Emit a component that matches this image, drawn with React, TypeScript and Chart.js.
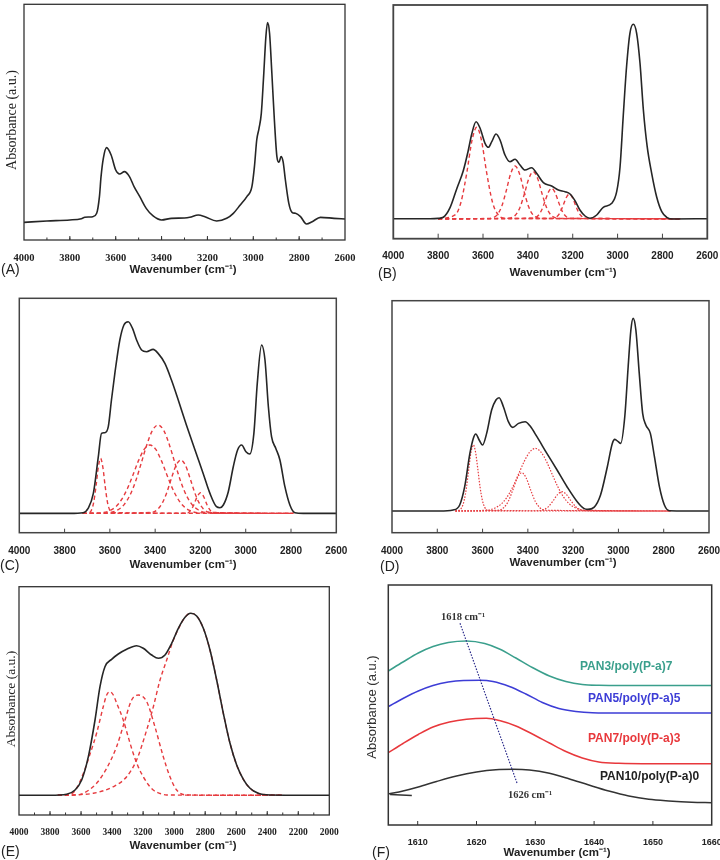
import React, { useEffect, useRef } from "react";
import { Chart, registerables } from "chart.js";

Chart.register(...registerables);

type Pt = [number, number];

// ---------- (A) ATR-FTIR spectrum, 4000–2600 cm-1 ----------
const A_SPECTRUM: Pt[] = [
  [4000, 5.3], [3900, 5.7], [3800, 6.0], [3750, 6.4], [3735, 6.8], [3715, 6.9], [3700, 7.0],
  [3683, 8.0], [3671, 13], [3664, 19], [3654, 24.5], [3640, 27.7], [3620, 25.5], [3600, 21],
  [3583, 19.8], [3562, 20.5], [3540, 19], [3520, 16], [3495, 13], [3467, 9.5], [3437, 7.2],
  [3400, 6.0], [3357, 6.5], [3300, 6.6], [3277, 6.8], [3240, 7.5], [3211, 7.0], [3160, 5.7],
  [3116, 6.5], [3087, 8.0], [3057, 10.5], [3028, 13], [3006, 16], [2995, 22], [2985, 30],
  [2975, 33.5], [2965, 38], [2955, 49], [2945, 61], [2938, 65.2], [2929, 62], [2919, 50],
  [2908, 36], [2897, 25], [2888, 23.3], [2879, 25], [2870, 23.5], [2860, 18], [2845, 11],
  [2831, 8.3], [2816, 8.0], [2794, 7.0], [2768, 4.8], [2743, 5.5], [2707, 6.8], [2648, 6.5],
  [2600, 6.3],
];

// ---------- (B) spectrum and fitted OH bands ----------
const B_SPECTRUM: Pt[] = [
  [4000, 20], [3836, 20], [3800, 20.3], [3777, 21.4], [3747, 31], [3717, 50], [3688, 68],
  [3666, 88], [3651, 104], [3631, 117], [3613, 110.4], [3591, 95.4], [3576, 91.4], [3561, 97],
  [3542, 104.7], [3524, 98.7], [3502, 83.7], [3480, 77], [3457, 79.4], [3435, 73.7],
  [3413, 68.7], [3383, 71], [3361, 65.4], [3331, 56], [3294, 52.7], [3264, 48.7], [3234, 47],
  [3212, 44.7], [3190, 38], [3168, 28.7], [3145, 22.7], [3123, 20.4], [3093, 23.7],
  [3064, 31.4], [3026, 35.4], [3004, 47], [2989, 72], [2975, 122], [2960, 172], [2945, 205.4],
  [2930, 214.4], [2915, 205.4], [2900, 175.4], [2885, 128.7], [2868, 92], [2848, 65.4],
  [2826, 42], [2803, 27], [2781, 21.4], [2752, 19.7], [2600, 20],
];
const B_FIT_1: Pt[] = [
  [3800, 20], [3723, 24], [3698, 36.7], [3673, 65], [3648, 99.5], [3628, 111.4], [3608, 99.5],
  [3583, 65], [3558, 36.7], [3533, 24], [3500, 20.3], [2720, 20],
];
const B_FIT_2: Pt[] = [
  [3800, 20], [3580, 20.2], [3557, 20.9], [3537, 23.8], [3517, 32.1], [3497, 47.4], [3477, 64.8],
  [3457, 72.7], [3437, 64.8], [3417, 47.4], [3397, 32.1], [3377, 23.8], [3357, 20.9],
  [3330, 20.2], [2720, 20],
];
const B_FIT_3: Pt[] = [
  [3800, 20], [3500, 20.2], [3476, 20.8], [3456, 23.4], [3436, 30.8], [3416, 44.4], [3396, 60],
  [3376, 67], [3356, 60], [3336, 44.4], [3316, 30.8], [3296, 23.4], [3276, 20.8], [3250, 20.2],
  [2720, 20],
];
const B_FIT_4: Pt[] = [
  [3800, 20], [3374, 20.5], [3354, 23.1], [3339, 28.4], [3324, 37.1], [3309, 46.3], [3294, 50.4],
  [3279, 46.3], [3264, 37.1], [3249, 28.4], [3234, 23.1], [3214, 20.5], [2720, 20],
];
const B_FIT_5: Pt[] = [
  [3800, 20], [3290, 20.3], [3275, 21.4], [3260, 24.9], [3245, 32], [3230, 40.6], [3215, 44.7],
  [3200, 40.6], [3185, 32], [3170, 24.9], [3155, 21.4], [3140, 20.3], [2720, 20],
];

// ---------- (C) spectrum and fitted OH bands ----------
const C_SPECTRUM: Pt[] = [
  [4000, 19.3], [3776, 19.3], [3718, 20], [3696, 24.3], [3673, 39.3], [3651, 76], [3637, 99.3],
  [3622, 100], [3607, 106], [3593, 132.7], [3578, 159.3], [3556, 192.7], [3538, 207.7],
  [3519, 211], [3500, 204.3], [3482, 192.7], [3460, 182.7], [3438, 181], [3409, 183.3],
  [3387, 179.3], [3357, 169.3], [3328, 152.7], [3298, 132.7], [3262, 107.7], [3224, 82.7],
  [3188, 59.3], [3158, 39.3], [3129, 26], [3114, 25], [3099, 27.7], [3077, 41], [3055, 66],
  [3036, 82.7], [3018, 87.7], [2999, 81], [2982, 78.7], [2964, 99.3], [2949, 149.3],
  [2930, 187.7], [2915, 172.7], [2900, 126], [2886, 96], [2867, 84.3], [2849, 72.7],
  [2827, 46], [2805, 27.7], [2783, 20], [2746, 19.3], [2600, 19.3],
];
const C_FIT_1: Pt[] = [
  [3720, 19.3], [3691, 20], [3681, 22.8], [3671, 30.9], [3661, 46.8], [3651, 65.5], [3641, 74.3],
  [3631, 65.5], [3621, 46.8], [3611, 30.9], [3601, 22.8], [3591, 20], [2790, 19.3],
];
const C_FIT_2: Pt[] = [
  [3720, 19.3], [3633, 20], [3598, 22.3], [3573, 26.1], [3548, 33.2], [3523, 43.9], [3498, 57.8],
  [3473, 72.3], [3448, 83.5], [3423, 87.7], [3398, 83.5], [3373, 72.3], [3348, 57.8],
  [3323, 43.9], [3298, 33.2], [3273, 26.1], [3248, 22.3], [3213, 20], [2790, 19.3],
];
const C_FIT_3: Pt[] = [
  [3720, 19.3], [3597, 20.3], [3562, 23.2], [3537, 28.1], [3512, 37.2], [3487, 51.1],
  [3462, 69.1], [3437, 87.8], [3412, 102.2], [3387, 107.7], [3362, 102.2], [3337, 87.8],
  [3312, 69.1], [3287, 51.1], [3262, 37.2], [3237, 28.1], [3212, 23.2], [3177, 20.3],
  [2790, 19.3],
];
const C_FIT_4: Pt[] = [
  [3720, 19.3], [3412, 20.4], [3387, 23.8], [3367, 30.3], [3347, 41.2], [3327, 55.3],
  [3307, 67.7], [3287, 72.7], [3267, 67.7], [3247, 55.3], [3227, 41.2], [3207, 30.3],
  [3187, 23.8], [3162, 20.4], [2790, 19.3],
];
const C_FIT_5: Pt[] = [
  [3720, 19.3], [3260, 19.5], [3245, 21.8], [3230, 27.5], [3215, 35.7], [3200, 40], [3185, 35.7],
  [3170, 27.5], [3155, 21.8], [3140, 19.5], [2790, 19.3],
];

// ---------- (D) spectrum and fitted OH bands ----------
const D_SPECTRUM: Pt[] = [
  [4000, 21.7], [3790, 21.7], [3730, 22.7], [3701, 27.7], [3679, 46], [3656, 79.3], [3641, 94.3],
  [3630, 98.7], [3615, 92.7], [3600, 87.7], [3582, 99.3], [3560, 122.7], [3541, 132.7],
  [3527, 135], [3508, 126], [3486, 111], [3467, 105.3], [3441, 109.3], [3412, 111],
  [3390, 106.7], [3360, 96], [3316, 79.3], [3271, 62.7], [3227, 46], [3182, 31], [3153, 24.3],
  [3135, 23.3], [3108, 25.3], [3079, 37.7], [3049, 66], [3027, 89.3], [3016, 93.3], [3001, 91],
  [2990, 89.3], [2972, 116], [2957, 166], [2945, 202.7], [2935, 214.3], [2923, 202.7],
  [2908, 159.3], [2893, 119.3], [2879, 107.7], [2859, 99.3], [2841, 76], [2819, 46],
  [2797, 27.7], [2775, 22], [2600, 21.7],
];
const D_FIT_1: Pt[] = [
  [3720, 21.7], [3706, 22.2], [3691, 25.6], [3681, 32.5], [3671, 45.5], [3661, 63.6],
  [3651, 80.6], [3641, 87.7], [3631, 80.6], [3621, 63.6], [3611, 45.5], [3601, 32.5],
  [3591, 25.6], [3576, 22.2], [2770, 21.7],
];
const D_FIT_2: Pt[] = [
  [3720, 21.7], [3527, 22.5], [3507, 25], [3487, 31.2], [3467, 42.3], [3447, 54.5], [3427, 60],
  [3407, 54.5], [3387, 42.3], [3367, 31.2], [3347, 25], [3327, 22.5], [2770, 21.7],
];
const D_FIT_3: Pt[] = [
  [3720, 21.7], [3577, 22.6], [3547, 24.5], [3517, 28.8], [3492, 35.6], [3467, 45.6],
  [3442, 58.1], [3417, 70.9], [3392, 80.6], [3367, 84.3], [3342, 80.6], [3317, 70.9],
  [3292, 58.1], [3267, 45.6], [3242, 35.6], [3217, 28.8], [3187, 24.5], [3157, 22.6],
  [2770, 21.7],
];
const D_FIT_4: Pt[] = [
  [3720, 21.7], [3349, 22], [3329, 23.1], [3309, 26.1], [3289, 31.7], [3269, 38.1], [3249, 41],
  [3229, 38.1], [3209, 31.7], [3189, 26.1], [3169, 23.1], [3149, 22], [2770, 21.7],
];

// ---------- (E) spectrum, 4000–2000 cm-1, and three fitted bands ----------
const E_SPECTRUM: Pt[] = [
  [4000, 19.7], [3800, 19.7], [3693, 20.7], [3639, 25], [3596, 35], [3553, 58.3], [3510, 95],
  [3478, 128.3], [3446, 148.3], [3403, 155.7], [3360, 161], [3306, 165.7], [3242, 169.3],
  [3199, 166.7], [3145, 160], [3102, 156.7], [3059, 160], [3016, 171.7], [2973, 186.7],
  [2930, 197.7], [2894, 201.7], [2855, 199], [2812, 186.7], [2769, 165], [2726, 135],
  [2683, 101.7], [2640, 71.7], [2597, 50], [2554, 35.7], [2511, 26.7], [2458, 21.7],
  [2383, 20], [2000, 19.7],
];
const E_FIT_1: Pt[] = [
  [3750, 19.7], [3693, 20], [3640, 24], [3585, 41.7], [3540, 62], [3500, 81.7], [3457, 108.3],
  [3435, 120], [3414, 123.3], [3392, 120], [3371, 112], [3328, 95], [3296, 78], [3264, 61.7],
  [3231, 48], [3199, 38.3], [3167, 30.5], [3135, 25], [3090, 21.5], [3049, 20], [2300, 19.7],
];
const E_FIT_2: Pt[] = [
  [3750, 19.7], [3620, 20], [3585, 21.7], [3500, 31.7], [3435, 46.7], [3371, 68.3],
  [3323, 91.7], [3274, 115], [3231, 120], [3177, 113.3], [3124, 88.3], [3070, 58.3],
  [3027, 38.3], [2984, 25], [2920, 20], [2300, 19.7],
];
const E_FIT_3: Pt[] = [
  [3750, 19.7], [3600, 20.5], [3521, 21.7], [3392, 28.3], [3306, 38.3], [3242, 55],
  [3177, 85], [3134, 108.3], [3091, 135], [3048, 155], [3005, 175], [2960, 190], [2930, 197.7],
  [2894, 201.7], [2855, 199], [2812, 186.7], [2769, 165], [2726, 135], [2683, 101.7],
  [2640, 71.7], [2597, 50], [2554, 35.7], [2511, 26.7], [2458, 21.7], [2383, 20], [2300, 19.7],
];

// ---------- (F) C=N / N-H region of the blends, 1605–1660 cm-1 ----------
const F_PAN3: Pt[] = [
  [1605, 154], [1607.5, 163], [1610.1, 172], [1612.6, 178.5], [1615.2, 182.5], [1618.3, 184],
  [1621.4, 181.5], [1623.9, 176], [1626.7, 167], [1629.5, 157.5], [1632.4, 149], [1635.2, 143.5],
  [1638, 140.5], [1640.8, 139.7], [1645, 139.5], [1660, 139.5],
];
const F_PAN5: Pt[] = [
  [1605, 118.3], [1607.5, 126.5], [1610.1, 134], [1612.6, 139.5], [1615.2, 143], [1617.8, 144.5],
  [1620.6, 144.7], [1622.8, 143.5], [1625.6, 138.5], [1628.4, 131], [1631.2, 122.5], [1634, 116.5],
  [1636.9, 113.5], [1639.7, 112.3], [1645, 112], [1660, 112],
];
const F_PAN7: Pt[] = [
  [1605, 72.3], [1607.5, 81.5], [1610.1, 90.5], [1612.6, 98], [1615.4, 103], [1618.3, 105.8],
  [1621.7, 106.7], [1623.9, 104.5], [1626.7, 99], [1629.5, 91], [1632.4, 82], [1635.2, 73.5],
  [1638, 67], [1640.8, 63], [1644.2, 61.7], [1650, 61.3], [1660, 61.3],
];
const F_PAN10: Pt[] = [
  [1605, 31], [1607.5, 34], [1610.1, 38], [1613.2, 43.5], [1616.6, 49], [1620, 53], [1623.3, 55.3],
  [1626.3, 55.7], [1629, 55], [1632.4, 51.7], [1635.7, 46.3], [1639.1, 40], [1642.5, 34],
  [1645.9, 29], [1649.3, 25.7], [1652.7, 24], [1656.6, 22.7], [1660, 22.3],
];
const F_PAN10_STUB: Pt[] = [[1605.3, 30.6], [1609, 29.5]];
const F_SHIFT_GUIDE: Pt[] = [[1617.2, 201.7], [1626.9, 41.7]];

// ---------- styling ----------
const INK = "#262626";
const FIT_RED = "#e63b3f";
const TEAL = "#3a9f8c";
const BLUE = "#3d3dd6";
const RED = "#e8383c";
const GUIDE = "#2d2d8c";
const SANS = '"Liberation Sans", Arial, sans-serif';
const SERIF = '"Liberation Serif", "Times New Roman", serif';
const X_TITLE = "Wavenumber (cm\u207B\u00B9)";
const Y_TITLE = "Absorbance (a.u.)";

const line = (pts: Pt[], color: string, width: number, dash: number[] = []) => ({
  data: pts.map(([x, y]) => ({ x, y })),
  borderColor: color,
  borderWidth: width,
  borderDash: dash,
  pointRadius: 0,
  fill: false,
  cubicInterpolationMode: "monotone" as const,
});
const spectrum = (pts: Pt[]) => line(pts, INK, 1.6);
const fit = (pts: Pt[]) => line(pts, FIT_RED, 1.4, [4, 3]);
const dottedFit = (pts: Pt[]) => line(pts, FIT_RED, 1.2, [1.5, 1.5]);

type Note = {
  text: string;
  x: number;
  y: number;
  font: string;
  color?: string;
  align?: CanvasTextAlign;
  rotate?: boolean;
};

type PanelSpec = {
  canvas: { left: number; top: number; width: number; height: number };
  box: { left: number; top: number; right: number; bottom: number };
  xMin: number;
  xMax: number;
  reverse: boolean;
  step: number;
  yMax: number;
  tickFont: { family: string; size: number; weight: string };
  tickPad: number;
  majorLen: number;
  minorStep?: number;
  minorLen?: number;
  frameColor: string;
  frameWidth: number;
  datasets: any[];
  notes: Note[];
};

const panelLetter = (text: string, x: number, y: number): Note => ({
  text, x, y, font: `14px ${SANS}`, align: "left",
});
const xTitle = (x: number, y: number): Note => ({
  text: X_TITLE, x, y, font: `bold 11.5px ${SANS}`,
});

const PANELS: PanelSpec[] = [
  {
    canvas: { left: 0, top: 0, width: 360, height: 285 },
    box: { left: 24, top: 4.3, right: 345, bottom: 240 },
    xMin: 2600, xMax: 4000, reverse: true, step: 200, yMax: 70.7,
    tickFont: { family: SERIF, size: 10.5, weight: "bold" }, tickPad: 3.7,
    majorLen: 4, minorStep: 100, minorLen: 2.5,
    frameColor: "#333", frameWidth: 1.3,
    datasets: [spectrum(A_SPECTRUM)],
    notes: [
      panelLetter("(A)", 1, 270),
      xTitle(183, 270),
      { text: Y_TITLE, x: 12, y: 120, font: `14px ${SERIF}`, rotate: true },
    ],
  },
  {
    canvas: { left: 360, top: 0, width: 360, height: 285 },
    box: { left: 393.3, top: 5, right: 707.3, bottom: 238.7 },
    xMin: 2600, xMax: 4000, reverse: true, step: 200, yMax: 233.7,
    tickFont: { family: SANS, size: 10, weight: "bold" }, tickPad: 3.6,
    majorLen: 5,
    frameColor: "#444", frameWidth: 1.8,
    datasets: [
      spectrum(B_SPECTRUM),
      fit(B_FIT_1), fit(B_FIT_2), fit(B_FIT_3), fit(B_FIT_4), fit(B_FIT_5),
    ],
    notes: [panelLetter("(B)", 378, 274), xTitle(563, 273)],
  },
  {
    canvas: { left: 0, top: 285, width: 360, height: 290 },
    box: { left: 19.3, top: 298.3, right: 336.3, bottom: 532.7 },
    xMin: 2600, xMax: 4000, reverse: true, step: 200, yMax: 234.4,
    tickFont: { family: SANS, size: 10, weight: "bold" }, tickPad: 4.6,
    majorLen: 4,
    frameColor: "#444", frameWidth: 1.5,
    datasets: [
      spectrum(C_SPECTRUM),
      fit(C_FIT_1), fit(C_FIT_2), fit(C_FIT_3), fit(C_FIT_4), fit(C_FIT_5),
    ],
    notes: [panelLetter("(C)", 0, 566), xTitle(183, 565)],
  },
  {
    canvas: { left: 360, top: 285, width: 360, height: 290 },
    box: { left: 392, top: 300.7, right: 709, bottom: 532.7 },
    xMin: 2600, xMax: 4000, reverse: true, step: 200, yMax: 232,
    tickFont: { family: SANS, size: 10, weight: "bold" }, tickPad: 4.6,
    majorLen: 4,
    frameColor: "#444", frameWidth: 1.5,
    datasets: [
      spectrum(D_SPECTRUM),
      dottedFit(D_FIT_1), dottedFit(D_FIT_2), dottedFit(D_FIT_3), dottedFit(D_FIT_4),
    ],
    notes: [panelLetter("(D)", 380, 567), xTitle(563, 563)],
  },
  {
    canvas: { left: 0, top: 575, width: 360, height: 285 },
    box: { left: 19, top: 586.7, right: 329.3, bottom: 815 },
    xMin: 2000, xMax: 4000, reverse: true, step: 200, yMax: 228.3,
    tickFont: { family: SERIF, size: 9.5, weight: "bold" }, tickPad: 4.3,
    majorLen: 4, minorStep: 100, minorLen: 2.5,
    frameColor: "#333", frameWidth: 1.3,
    datasets: [spectrum(E_SPECTRUM), fit(E_FIT_1), fit(E_FIT_2), fit(E_FIT_3)],
    notes: [
      panelLetter("(E)", 1, 852),
      xTitle(183, 846),
      { text: Y_TITLE, x: 11, y: 699, font: `13.5px ${SERIF}`, rotate: true },
    ],
  },
  {
    canvas: { left: 360, top: 575, width: 360, height: 285 },
    box: { left: 388.3, top: 585, right: 711.7, bottom: 825 },
    xMin: 1605, xMax: 1660, reverse: false, step: 10, yMax: 240,
    tickFont: { family: SANS, size: 9, weight: "bold" }, tickPad: 4.6,
    majorLen: 4,
    frameColor: "#333", frameWidth: 1.5,
    datasets: [
      line(F_SHIFT_GUIDE, GUIDE, 1.2, [1.5, 1.5]),
      line(F_PAN3, TEAL, 1.5),
      line(F_PAN5, BLUE, 1.5),
      line(F_PAN7, RED, 1.5),
      line(F_PAN10, "#333", 1.5),
      line(F_PAN10_STUB, "#333", 1.5),
    ],
    notes: [
      panelLetter("(F)", 372, 853),
      xTitle(557, 853),
      { text: Y_TITLE, x: 372, y: 707, font: `13px ${SANS}`, color: "#333", rotate: true },
      { text: "1618 cm\u207B\u00B9", x: 463, y: 617, font: `bold 10.5px ${SERIF}`, color: "#333" },
      { text: "1626 cm\u207B\u00B9", x: 530, y: 795, font: `bold 10.5px ${SERIF}`, color: "#333" },
      { text: "PAN3/poly(P-a)7", x: 580, y: 667, font: `bold 12px ${SANS}`, color: TEAL, align: "left" },
      { text: "PAN5/poly(P-a)5", x: 588, y: 699, font: `bold 12px ${SANS}`, color: BLUE, align: "left" },
      { text: "PAN7/poly(P-a)3", x: 588, y: 739, font: `bold 12px ${SANS}`, color: RED, align: "left" },
      { text: "PAN10/poly(P-a)0", x: 600, y: 777, font: `bold 12px ${SANS}`, color: "#222", align: "left" },
    ],
  },
];

function Panel({ spec }: { spec: PanelSpec }) {
  const ref = useRef<HTMLCanvasElement | null>(null);

  useEffect(() => {
    const canvas = ref.current;
    if (!canvas) return;
    const { canvas: c, box } = spec;

    // Box outline plus inward tick marks along the bottom axis.
    const framePlugin = {
      id: "frame",
      afterDatasetsDraw(chart: any) {
        const { ctx, chartArea } = chart;
        const x = chart.scales.x;
        const { left, top, right, bottom } = chartArea;
        ctx.save();
        ctx.strokeStyle = spec.frameColor;
        ctx.lineWidth = 1;
        ctx.beginPath();
        const mark = (v: number, len: number) => {
          const px = x.getPixelForValue(v);
          if (px < left + 1 || px > right - 1) return;
          ctx.moveTo(px, bottom);
          ctx.lineTo(px, bottom - len);
        };
        if (spec.minorStep) {
          for (let v = spec.xMin; v <= spec.xMax + 1e-6; v += spec.minorStep) {
            mark(v, spec.minorLen || 2);
          }
        }
        x.ticks.forEach((t: any) => mark(t.value, spec.majorLen));
        ctx.stroke();
        ctx.lineWidth = spec.frameWidth;
        ctx.strokeRect(left, top, right - left, bottom - top);
        ctx.restore();
      },
    };

    // Axis titles, panel letters and annotations.
    const notesPlugin = {
      id: "notes",
      afterDraw(chart: any) {
        const { ctx } = chart;
        for (const n of spec.notes) {
          ctx.save();
          ctx.font = n.font;
          ctx.fillStyle = n.color || "#222";
          ctx.textAlign = n.align || "center";
          ctx.textBaseline = "middle";
          const px = n.x - c.left;
          const py = n.y - c.top;
          if (n.rotate) {
            ctx.translate(px, py);
            ctx.rotate(-Math.PI / 2);
            ctx.fillText(n.text, 0, 0);
          } else {
            ctx.fillText(n.text, px, py);
          }
          ctx.restore();
        }
      },
    };

    const chart = new Chart(canvas, {
      type: "line",
      data: { datasets: spec.datasets },
      options: {
        animation: false,
        responsive: false,
        events: [],
        layout: {
          padding: {
            left: box.left - c.left,
            top: box.top - c.top,
            right: c.left + c.width - box.right,
            bottom: 0,
          },
        },
        plugins: {
          legend: { display: false },
          tooltip: { enabled: false },
        },
        scales: {
          x: {
            type: "linear",
            min: spec.xMin,
            max: spec.xMax,
            reverse: spec.reverse,
            grid: { display: false },
            border: { display: false },
            ticks: {
              stepSize: spec.step,
              autoSkip: false,
              maxRotation: 0,
              includeBounds: false,
              font: spec.tickFont as any,
              color: "#222",
              padding: spec.tickPad,
              callback: (v: any) => String(v),
            },
            afterFit: (s: any) => {
              s.height = c.top + c.height - box.bottom;
              s.paddingLeft = 0;
              s.paddingRight = 0;
            },
          },
          y: { type: "linear", min: 0, max: spec.yMax, display: false },
        },
      } as any,
      plugins: [framePlugin, notesPlugin],
    });
    return () => chart.destroy();
  }, [spec]);

  const { canvas: c } = spec;
  return (
    <canvas
      ref={ref}
      width={c.width}
      height={c.height}
      style={{ position: "absolute", left: c.left, top: c.top, width: c.width, height: c.height }}
    />
  );
}

export default function App() {
  return (
    <div
      style={{
        position: "fixed",
        left: 0,
        top: 0,
        width: 720,
        height: 860,
        background: "#ffffff",
        overflow: "hidden",
      }}
    >
      {PANELS.map((p, i) => (
        <Panel key={i} spec={p} />
      ))}
    </div>
  );
}
